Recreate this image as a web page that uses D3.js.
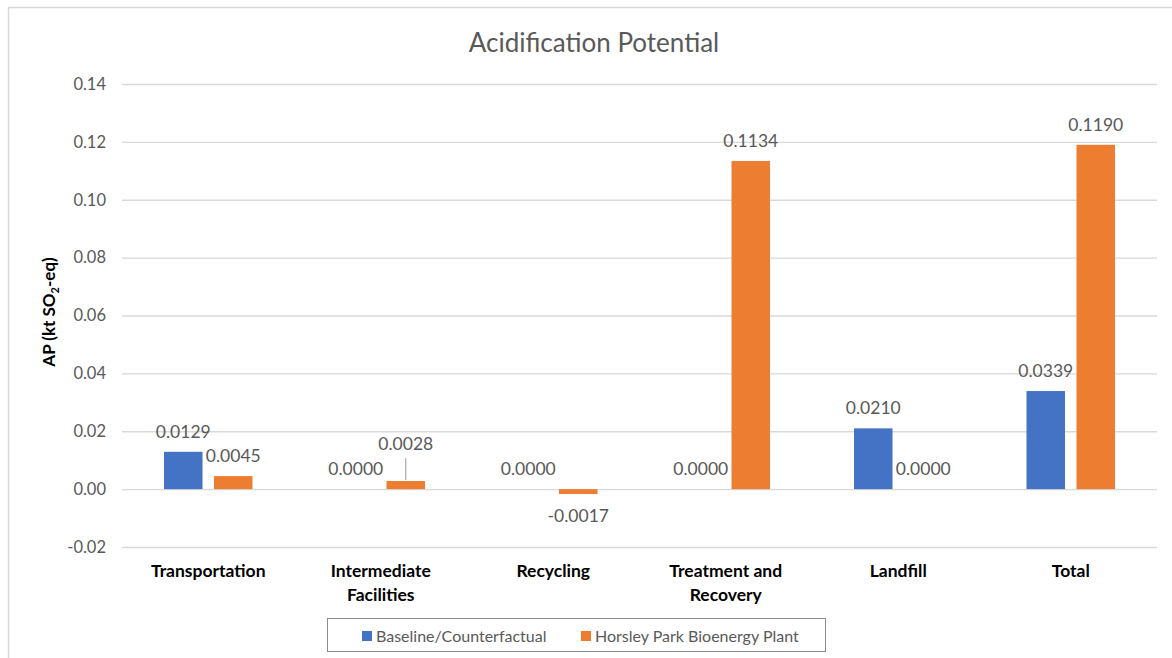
<!DOCTYPE html>
<html>
<head>
<meta charset="utf-8">
<script src="https://cdn.jsdelivr.net/npm/d3@7"></script>
<style>
  html, body { margin: 0; padding: 0; background: #fff; }
  svg { display: block; font-family: Lato, "Open Sans", sans-serif; }
</style>
</head>
<body>
<svg id="chart" width="1172" height="658"></svg>
<script>
// Acidification potential by life-cycle stage
const categories = ["Transportation", "Intermediate Facilities", "Recycling", "Treatment and Recovery", "Landfill", "Total"];
const seriesNames = ["Baseline/Counterfactual", "Horsley Park Bioenergy Plant"];
const baselineValues = [0.0129, 0.0000, 0.0000, 0.0000, 0.0210, 0.0339];
const horsleyValues  = [0.0045, 0.0028, -0.0017, 0.1134, 0.0000, 0.1190];
const yTicks = [-0.02, 0.00, 0.02, 0.04, 0.06, 0.08, 0.10, 0.12, 0.14];
const seriesColors = ["#4472C4", "#ED7D31"];

const svg = d3.select("#chart");
const W = 1172, H = 658;
const plot = { left: 122, right: 1157, top: 84, bottom: 547 };

// number formats using a plain hyphen for negatives
const locale = d3.formatLocale({ decimal: ".", thousands: ",", grouping: [3], currency: ["", ""], minus: "-" });
const tickFmt = locale.format(".2f");
const fmt = locale.format(".4f");

svg.append("rect").attr("width", W).attr("height", H).attr("fill", "#fff");
// chart area frame
svg.append("rect")
  .attr("x", 8.5).attr("y", 7.5).attr("width", 1200).attr("height", 700)
  .attr("fill", "none").attr("stroke", "#d9d9d9").attr("stroke-width", 1.5);

const y = d3.scaleLinear().domain([-0.02, 0.14]).range([plot.bottom, plot.top]);
const x = d3.scaleBand().domain(categories).range([plot.left, plot.right]).padding(0);
const xs = d3.scaleBand().domain(seriesNames).range([-44.25, 44.25]).paddingInner(0.23).paddingOuter(0);

// title
svg.append("text")
  .attr("x", 594).attr("y", 52)
  .attr("text-anchor", "middle")
  .attr("fill", "#595959")
  .attr("font-size", 26)
  .text("Acidification Potential");

// gridlines + y tick labels
const yAxis = d3.axisLeft(y).tickValues(yTicks).tickFormat(tickFmt)
  .tickSize(-(plot.right - plot.left)).tickPadding(16);
const gy = svg.append("g").attr("transform", `translate(${plot.left},0)`).call(yAxis);
gy.select(".domain").remove();
gy.selectAll(".tick line").attr("stroke", "#d9d9d9").attr("stroke-width", 1.3);
gy.selectAll(".tick text")
  .attr("fill", "#595959").attr("font-size", 16.5)
  .attr("font-family", "Lato, 'Open Sans', sans-serif");

// y axis title with subscript
const yt = svg.append("text")
  .attr("transform", "translate(55,312) rotate(-90)")
  .attr("text-anchor", "middle")
  .attr("font-weight", "bold")
  .attr("font-size", 17)
  .attr("fill", "#000");
yt.append("tspan").text("AP (kt SO");
yt.append("tspan").attr("font-size", 11).attr("dy", 4).text("2");
yt.append("tspan").attr("dy", -4).text("-eq)");

// bars
const rows = categories.map((c, i) => ({ cat: c, vals: [baselineValues[i], horsleyValues[i]] }));

const barsG = svg.append("g");
rows.forEach(r => {
  const cx = x(r.cat) + x.bandwidth() / 2;
  r.vals.forEach((v, si) => {
    const bx = cx + xs(seriesNames[si]);
    barsG.append("rect")
      .attr("x", bx)
      .attr("y", y(Math.max(0, v)))
      .attr("width", xs.bandwidth())
      .attr("height", Math.abs(y(v) - y(0)))
      .attr("fill", seriesColors[si]);
  });
});

// data labels (outside end), nudged up with a leader when they collide
const labelsG = svg.append("g")
  .attr("font-size", 17.5).attr("fill", "#595959").attr("text-anchor", "middle");
rows.forEach(r => {
  const cx = x(r.cat) + x.bandwidth() / 2;
  const placed = r.vals.map((v, si) => {
    const bx = cx + xs(seriesNames[si]) + xs.bandwidth() / 2;
    const by = v < 0 ? y(v) + 28 : y(v) - 14;
    return { v, bx, by, barTop: y(Math.max(0, v)) };
  });
  const a = placed[0], b = placed[1];
  const halfW = 28;
  if (Math.abs(a.by - b.by) < 16 && Math.abs(a.bx - b.bx) < 2 * halfW && b.v >= 0) {
    b.by = a.by - 25;
    labelsG.append("line")
      .attr("x1", b.bx).attr("x2", b.bx)
      .attr("y1", b.by + 8).attr("y2", b.barTop - 1)
      .attr("stroke", "#a6a6a6").attr("stroke-width", 1.2);
  }
  placed.forEach(p => {
    labelsG.append("text").attr("x", p.bx).attr("y", p.by).text(fmt(p.v));
  });
});

// category labels with wrapping
const catG = svg.append("g")
  .attr("font-weight", "bold").attr("font-size", 17.5).attr("fill", "#000")
  .attr("text-anchor", "middle");
categories.forEach(c => {
  const cx = x(c) + x.bandwidth() / 2;
  const t = catG.append("text").attr("x", cx).attr("y", 577);
  const words = c.split(" ");
  let line = [];
  let tspan = t.append("tspan").attr("x", cx).attr("dy", 0);
  words.forEach(w => {
    line.push(w);
    tspan.text(line.join(" "));
    if (tspan.node().getComputedTextLength() > 150 && line.length > 1) {
      line.pop();
      tspan.text(line.join(" "));
      line = [w];
      tspan = t.append("tspan").attr("x", cx).attr("dy", 23.5).text(w);
    }
  });
});

// legend
const legend = svg.append("g");
legend.append("rect")
  .attr("x", 327.5).attr("y", 618.5).attr("width", 498).attr("height", 33)
  .attr("fill", "#fff").attr("stroke", "#8c8c8c").attr("stroke-width", 1);
const legendX = [362, 581];
seriesNames.forEach((s, i) => {
  legend.append("rect")
    .attr("x", legendX[i]).attr("y", 631).attr("width", 10).attr("height", 10)
    .attr("fill", seriesColors[i]);
  legend.append("text")
    .attr("x", legendX[i] + 14).attr("y", 641.5)
    .attr("font-size", 16).attr("fill", "#595959")
    .text(s);
});
</script>
</body>
</html>
